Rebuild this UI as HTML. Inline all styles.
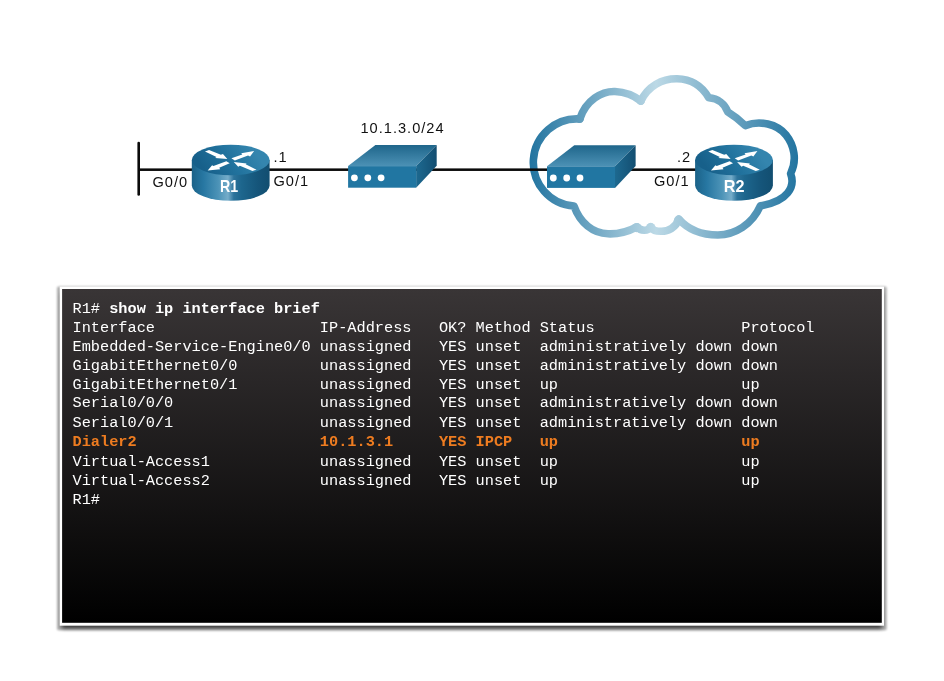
<!DOCTYPE html>
<html lang="en">
<head>
<meta charset="utf-8">
<title>R1 show ip interface brief</title>
<style>
  html, body { margin: 0; padding: 0; background: #ffffff; }
  body { width: 944px; height: 681px; position: relative; overflow: hidden; font-family: "Liberation Sans", sans-serif; }
  #diagram { position: absolute; left: 0; top: 0; width: 944px; height: 681px; will-change: transform; }
  #diagram text { font-family: "Liberation Sans", sans-serif; }
  .lbl { font-size: 14.6px; fill: #111111; letter-spacing: 1.0px; }
  .dev { font-size: 15.8px; font-weight: bold; fill: #ffffff; }
  #term { position: absolute; left: 62px; top: 289px; width: 820px; height: 334px; will-change: transform; }
  #term .ln {
    position: absolute; left: 10.5px; height: 19px; margin: 0;
    font-family: "Liberation Mono", monospace; font-size: 15.27px; line-height: 19px;
    color: #ffffff; white-space: pre;
  }
  #term b { font-weight: bold; }
  #term .hl { color: #ee7c20; font-weight: bold; }
</style>
</head>
<body>
<svg id="diagram" viewBox="0 0 944 681" width="944" height="681">
  <defs>
    <linearGradient id="gSide" x1="0" y1="0" x2="1" y2="0">
      <stop offset="0" stop-color="#1b6288"/>
      <stop offset="0.15" stop-color="#2777a2"/>
      <stop offset="0.34" stop-color="#4c93b7"/>
      <stop offset="0.465" stop-color="#76adca"/>
      <stop offset="0.54" stop-color="#2c739b"/>
      <stop offset="0.64" stop-color="#1d668d"/>
      <stop offset="0.85" stop-color="#15557a"/>
      <stop offset="1" stop-color="#124e70"/>
    </linearGradient>
    <linearGradient id="gTop" gradientUnits="userSpaceOnUse" x1="-22" y1="16" x2="20" y2="-14">
      <stop offset="0" stop-color="#17608a"/>
      <stop offset="0.5" stop-color="#21729d"/>
      <stop offset="1" stop-color="#3485ae"/>
    </linearGradient>
    <linearGradient id="gBoxTop" x1="0" y1="0" x2="0" y2="1">
      <stop offset="0" stop-color="#1f668b"/>
      <stop offset="1" stop-color="#4c91b5"/>
    </linearGradient>
    <linearGradient id="gBoxSide" x1="0" y1="0" x2="1" y2="0">
      <stop offset="0" stop-color="#1d6990"/>
      <stop offset="1" stop-color="#134e71"/>
    </linearGradient>
    <linearGradient id="gCloud" gradientUnits="userSpaceOnUse" x1="530" y1="0" x2="798" y2="0">
      <stop offset="0" stop-color="#2274a0"/>
      <stop offset="0.47" stop-color="#bcd9e6"/>
      <stop offset="1" stop-color="#2274a0"/>
    </linearGradient>
    <linearGradient id="gPanel" x1="0" y1="0" x2="0" y2="1">
      <stop offset="0" stop-color="#393536"/>
      <stop offset="1" stop-color="#000000"/>
    </linearGradient>
    <filter id="blurA" x="-5%" y="-10%" width="110%" height="120%"><feGaussianBlur stdDeviation="2"/></filter>
    <filter id="blurB" x="-5%" y="-10%" width="110%" height="120%"><feGaussianBlur stdDeviation="0.9"/></filter>
    <g id="router">
      <!-- body: centred on x=0, top ellipse centre y=0 -->
      <path d="M-38.9,0 L-38.9,25.6 A38.9,15.2 0 0 0 38.9,25.6 L38.9,0 Z" fill="url(#gSide)"/>
      <ellipse cx="0" cy="0" rx="38.9" ry="15.3" fill="url(#gTop)"/>
      <g fill="#ffffff">
        <polygon points="-21.65,-10.03 -9.79,-5.15 -7.75,-5.97 -3.35,-0.95 -15.55,-2.1 -14.2,-3.12 -25.72,-8.41"/>
        <polygon points="0.72,-1.63 11.57,-5.49 10.55,-6.85 23.43,-9.02 19.36,-3.46 17.33,-4.47 4.11,0.61"/>
        <polygon points="-4.36,1.29 -17.25,6.03 -18.6,5.36 -23.01,10.58 -10.47,9.22 -11.48,7.73 -0.97,3.32"/>
        <polygon points="25.81,9.63 14.96,4.34 15.97,3.53 3.09,1.97 7.5,6.71 9.19,5.83 21.74,11.12"/>
      </g>
    </g>
    <g id="modem">
      <!-- origin = front face top-left -->
      <polygon points="0,0 27.3,-21 88.6,-21 68,0" fill="url(#gBoxTop)"/>
      <polygon points="68,0 88.6,-21 88.6,-0.4 68,21.6" fill="url(#gBoxSide)"/>
      <rect x="0" y="0" width="68" height="21.6" fill="#2176a2"/>
      <circle cx="6.3" cy="11.7" r="3.4" fill="#ffffff"/>
      <circle cx="19.7" cy="11.7" r="3.4" fill="#ffffff"/>
      <circle cx="33.0" cy="11.7" r="3.4" fill="#ffffff"/>
    </g>
  </defs>

  <!-- cloud -->
  <path id="cloud" fill="none" stroke="url(#gCloud)" stroke-width="7.6" stroke-linejoin="round" stroke-linecap="round"
    d="M574,206
       A43,43 0 0 1 579.8,119
       C586,100 602,91 615,91.5
       C626,92 634,95.5 640.8,101
       C648,86 662,78.5 677,78.7
       C691,79 702,86 708.8,97.8
       C718,98.5 725,104 727.9,112.1
       Q737.5,118 745.3,125.6
       C760,120 777,124 786,135
       C794,145 797.5,160 790.6,173.6
       C795.5,186.5 788,201.5 760.4,205.8
       C752.2,224.5 735,235 717.8,235
       C701,235 688,229.5 678.8,219
       C676,227.5 668,231.5 661,231.3
       C656,231.3 652,229.5 650.5,226.8
       C648,231.3 641,231.6 637,226.8
       C628,231.6 618,234.2 608,233.8
       C593,233.3 580,223 574,206 Z"/>

  <!-- links -->
  <g fill="url(#gCloud)">
    <circle cx="678.6" cy="220.2" r="4.7"/>
    <circle cx="650.8" cy="227.6" r="4.6"/>
    <circle cx="636.6" cy="227.6" r="4.6"/>
    <circle cx="640.8" cy="100.6" r="4.3"/>
    <circle cx="579.6" cy="118.8" r="4.3"/>
  </g>
  <rect x="137.4" y="141.7" width="2.6" height="54.1" rx="1.3" fill="#0a0a0a"/>
  <rect x="138" y="168.4" width="420" height="2.55" fill="#0a0a0a"/>
  <rect x="600" y="168.4" width="110" height="2.55" fill="#0a0a0a"/>

  <!-- devices -->
  <use href="#modem" x="348.1" y="166.1"/>
  <use href="#modem" x="547.0" y="166.3"/>
  <use href="#router" x="230.7" y="160"/>
  <use href="#router" x="734.0" y="160"/>

  <!-- labels -->
  <text class="lbl" x="360.5" y="132.9">10.1.3.0/24</text>
  <text class="lbl" x="152.5" y="187.2">G0/0</text>
  <text class="lbl" x="273.5" y="162.2">.1</text>
  <text class="lbl" x="273.5" y="186.2">G0/1</text>
  <text class="lbl" x="677" y="162.2">.2</text>
  <text class="lbl" x="654" y="186.2">G0/1</text>
  <text class="dev" transform="translate(229.1,192.1) scale(0.9,1)" text-anchor="middle">R1</text>
  <text class="dev" transform="translate(734.1,192.1) scale(1.03,1)" text-anchor="middle">R2</text>

  <!-- terminal panel -->
  <rect x="61.7" y="293.1" width="820.3" height="335.1" fill="#000000" opacity="0.74" filter="url(#blurA)"/>
  <rect x="57.0" y="286.6" width="829.7" height="343.7" rx="1.5" fill="#000000" opacity="0.32" filter="url(#blurB)"/>
  <rect x="59.7" y="286.6" width="824.3" height="339.1" fill="#ffffff"/>
  <rect x="62.1" y="289.0" width="819.7" height="333.8" fill="url(#gPanel)"/>
</svg>

<div id="term">
<div class="ln" style="top:11px">R1# <b>show ip interface brief</b></div>
<div class="ln" style="top:30px">Interface                  IP-Address   OK? Method Status                Protocol</div>
<div class="ln" style="top:49px">Embedded-Service-Engine0/0 unassigned   YES unset  administratively down down</div>
<div class="ln" style="top:68px">GigabitEthernet0/0         unassigned   YES unset  administratively down down</div>
<div class="ln" style="top:87px">GigabitEthernet0/1         unassigned   YES unset  up                    up</div>
<div class="ln" style="top:105px">Serial0/0/0                unassigned   YES unset  administratively down down</div>
<div class="ln" style="top:125px">Serial0/0/1                unassigned   YES unset  administratively down down</div>
<div class="ln hl" style="top:144px">Dialer2                    10.1.3.1     YES IPCP   up                    up</div>
<div class="ln" style="top:164px">Virtual-Access1            unassigned   YES unset  up                    up</div>
<div class="ln" style="top:183px">Virtual-Access2            unassigned   YES unset  up                    up</div>
<div class="ln" style="top:202px">R1#</div>
</div>
</body>
</html>
